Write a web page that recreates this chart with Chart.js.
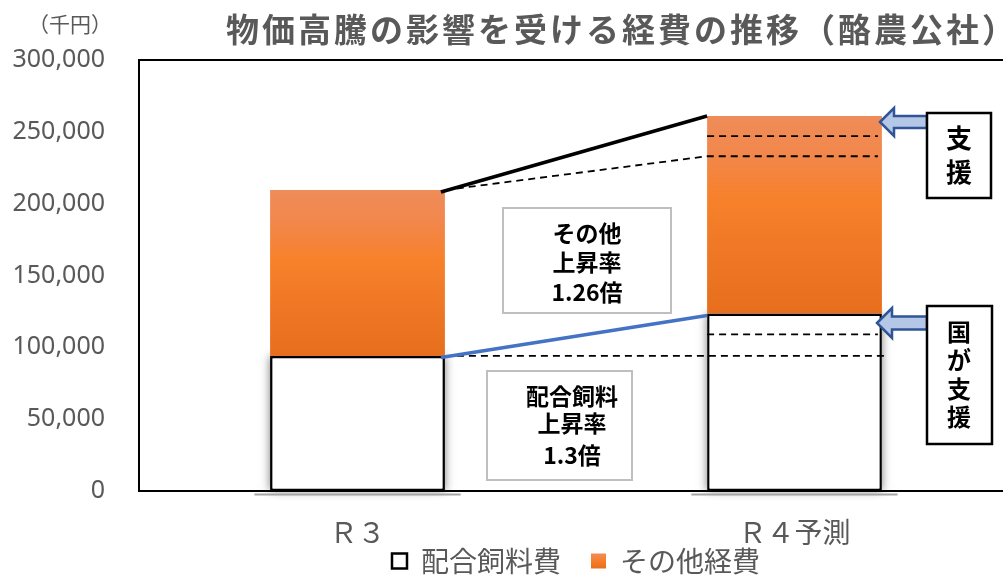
<!DOCTYPE html>
<html lang="ja">
<head>
<meta charset="utf-8">
<title>物価高騰の影響を受ける経費の推移（酪農公社）</title>
<script src="https://cdn.jsdelivr.net/npm/chart.js@4.4.1/dist/chart.umd.min.js"></script>
<style>
  html, body { margin: 0; padding: 0; background: #fff; overflow: hidden; }
  #wrap { position: relative; width: 1003px; height: 575px; overflow: hidden; }
  #wrap canvas { position: absolute; left: 0; top: 0; }
</style>
</head>
<body>
<div id="wrap"><canvas id="cost-chart" width="1016" height="621"></canvas></div>
<script>
// 経費（千円）
var categories = ['Ｒ３', 'Ｒ４予測'];
var feedCost = [94000, 123500];      // 配合飼料費
var otherCost = [115500, 137500];    // その他経費
var otherGuide = [233000, 247000];   // 支援ライン（その他）
var feedGuide = [94000, 109000];     // 支援ライン（配合飼料）
var yTicks = [0, 50000, 100000, 150000, 200000, 250000, 300000];
var feedRate = '1.3倍';
var otherRate = '1.26倍';

var JP = '"Noto Sans CJK JP", "Noto Sans", sans-serif';
var GRAY = '#595959';

function orangeGradient(ctx, top, bottom) {
  var g = ctx.createLinearGradient(0, top, 0, bottom);
  g.addColorStop(0, '#ef8c59');
  g.addColorStop(0.2, '#f2874b');
  g.addColorStop(0.42, '#f7812b');
  g.addColorStop(0.75, '#ee7524');
  g.addColorStop(1, '#e76e1d');
  return g;
}

function orangeFill(c) {
  var y = c.chart.scales.y;
  if (!y || c.dataIndex === undefined) return '#f47f2f';
  var i = c.dataIndex;
  return orangeGradient(c.chart.ctx, y.getPixelForValue(feedCost[i] + otherCost[i]), y.getPixelForValue(feedCost[i]));
}

function textBox(ctx, x, y, w, h, color, lw) {
  ctx.save();
  ctx.fillStyle = '#ffffff';
  ctx.fillRect(x, y, w, h);
  ctx.strokeStyle = color;
  ctx.lineWidth = lw;
  ctx.strokeRect(x, y, w, h);
  ctx.restore();
}

function lines(ctx, list, cx, ys, font) {
  ctx.save();
  ctx.font = font;
  ctx.fillStyle = '#000000';
  ctx.textAlign = 'center';
  ctx.textBaseline = 'middle';
  list.forEach(function(t, i) { ctx.fillText(t, cx, ys[i]); });
  ctx.restore();
}

function leftArrow(ctx, tipX, tipY, headX, headHalf, shaftHalf, endX) {
  ctx.save();
  ctx.beginPath();
  ctx.moveTo(tipX, tipY);
  ctx.lineTo(headX, tipY - headHalf);
  ctx.lineTo(headX, tipY - shaftHalf);
  ctx.lineTo(endX, tipY - shaftHalf);
  ctx.lineTo(endX, tipY + shaftHalf);
  ctx.lineTo(headX, tipY + shaftHalf);
  ctx.lineTo(headX, tipY + headHalf);
  ctx.closePath();
  ctx.fillStyle = '#b4c7e7';
  ctx.fill();
  ctx.strokeStyle = '#2f5597';
  ctx.lineWidth = 2.5;
  ctx.lineJoin = 'miter';
  ctx.stroke();
  ctx.restore();
}

var decor = {
  id: 'decor',
  afterLayout: function(chart) {
    // 凡例を軸ラベルのすぐ下へ寄せる
    var lg = chart.legend;
    if (!lg) return;
    var h = lg.height;
    lg.top = chart.chartArea.bottom + 26;
    lg.bottom = lg.top + h;
  },
  beforeDraw: function(chart) {
    var lg = chart.legend;
    if (lg && lg.legendItems && lg.legendItems[1]) {
      var top = lg.top + 30 + 6.5;
      lg.legendItems[1].fillStyle = orangeGradient(chart.ctx, top, top + 15);
    }
  },
  beforeDatasetsDraw: function(chart) {
    // 配合飼料の棒の影
    var ctx = chart.ctx;
    chart.getDatasetMeta(0).data.forEach(function(bar) {
      var left = bar.x - bar.width / 2;
      ctx.save();
      ctx.shadowColor = 'rgba(0,0,0,0.5)';
      ctx.shadowBlur = 9;
      ctx.fillStyle = '#ffffff';
      ctx.fillRect(left, bar.y, bar.width, bar.base - bar.y);
      ctx.restore();
      ctx.save();
      ctx.strokeStyle = '#a6a6a6';
      ctx.lineWidth = 2;
      ctx.beginPath();
      ctx.moveTo(bar.x - bar.width * 0.59, bar.base + 3.5);
      ctx.lineTo(bar.x + bar.width * 0.59, bar.base + 3.5);
      ctx.stroke();
      ctx.restore();
    });
  },
  afterDatasetsDraw: function(chart) {
    var ctx = chart.ctx;
    var y = chart.scales.y;
    var area = chart.chartArea;
    var bars = chart.getDatasetMeta(1).data;
    var r3Right = bars[0].x + bars[0].width / 2;
    var r4Left = bars[1].x - bars[1].width / 2;
    var r4Right = bars[1].x + bars[1].width / 2;
    var tot3 = y.getPixelForValue(feedCost[0] + otherCost[0]);
    var tot4 = y.getPixelForValue(feedCost[1] + otherCost[1]);
    var feed3 = y.getPixelForValue(feedCost[0]);
    var feed4 = y.getPixelForValue(feedCost[1]);

    // 破線
    ctx.save();
    ctx.strokeStyle = '#000000';
    ctx.lineWidth = 1.8;
    ctx.setLineDash([7, 5]);
    ctx.beginPath();
    ctx.moveTo(r3Right, tot3);
    ctx.lineTo(r4Left, y.getPixelForValue(otherGuide[0]));
    ctx.lineTo(r4Right - 4, y.getPixelForValue(otherGuide[0]));
    ctx.moveTo(r4Left, y.getPixelForValue(otherGuide[1]));
    ctx.lineTo(r4Right - 4, y.getPixelForValue(otherGuide[1]));
    ctx.moveTo(r3Right, y.getPixelForValue(feedGuide[0]));
    ctx.lineTo(r4Right + 2, y.getPixelForValue(feedGuide[0]));
    ctx.moveTo(r4Left, y.getPixelForValue(feedGuide[1]));
    ctx.lineTo(r4Right - 4, y.getPixelForValue(feedGuide[1]));
    ctx.stroke();
    ctx.restore();

    // 上昇を示す実線
    ctx.save();
    ctx.lineWidth = 3.5;
    ctx.lineCap = 'butt';
    ctx.strokeStyle = '#000000';
    ctx.beginPath();
    ctx.moveTo(r3Right - 4, tot3 + 2);
    ctx.lineTo(r4Left, tot4);
    ctx.stroke();
    ctx.strokeStyle = '#4472c4';
    ctx.beginPath();
    ctx.moveTo(r3Right - 4, feed3 + 1.5);
    ctx.lineTo(r4Left, feed4 + 2);
    ctx.stroke();
    ctx.restore();

    // 枠
    ctx.save();
    ctx.strokeStyle = '#000000';
    ctx.lineWidth = 2;
    ctx.strokeRect(area.left, area.top, area.right - area.left, area.bottom - area.top);
    ctx.restore();
  },
  afterDraw: function(chart) {
    var ctx = chart.ctx;

    // タイトル
    ctx.save();
    ctx.font = 'bold 33px ' + JP;
    ctx.fillStyle = GRAY;
    ctx.textBaseline = 'middle';
    ctx.letterSpacing = '3px';
    ctx.fillText('物価高騰の影響を受ける経費の推移（酪農公社）', 226, 29);
    ctx.restore();

    // 単位
    ctx.save();
    ctx.font = '21px ' + JP;
    ctx.fillStyle = GRAY;
    ctx.textBaseline = 'middle';
    ctx.fillText('（千円）', 28, 24);
    ctx.restore();

    // 上昇率
    textBox(ctx, 503, 208, 168, 105, '#bfbfbf', 2);
    lines(ctx, ['その他', '上昇率', otherRate], 587, [233, 262, 292], 'bold 23px ' + JP);
    textBox(ctx, 487, 371, 145, 109, '#bfbfbf', 2);
    lines(ctx, ['配合飼料', '上昇率', feedRate], 572, [396, 423, 455], 'bold 23px ' + JP);

    // 支援
    leftArrow(ctx, 880, 122, 894, 14, 6, 927);
    leftArrow(ctx, 877, 323, 892, 15, 6.5, 927);
    textBox(ctx, 927, 113, 64, 85, '#000000', 2.5);
    lines(ctx, ['支', '援'], 959, [138, 172], 'bold 26px ' + JP);
    textBox(ctx, 927, 306, 65, 138, '#000000', 2.5);
    lines(ctx, ['国', 'が', '支', '援'], 959, [332, 360, 389, 417], 'bold 24px ' + JP);
  }
};

new Chart(document.getElementById('cost-chart'), {
  type: 'bar',
  data: {
    labels: categories,
    datasets: [
      {
        label: '配合飼料費',
        data: feedCost,
        backgroundColor: '#ffffff',
        borderColor: '#000000',
        borderWidth: 2.5,
        borderSkipped: false
      },
      {
        label: 'その他経費',
        data: otherCost,
        backgroundColor: orangeFill,
        borderWidth: 0
      }
    ]
  },
  options: {
    responsive: false,
    animation: false,
    layout: { padding: { top: 60, right: 3, bottom: 0, left: 0 } },
    datasets: { bar: { barPercentage: 0.4, categoryPercentage: 1 } },
    scales: {
      x: {
        stacked: true,
        grid: { display: false, drawTicks: false },
        border: { display: false },
        ticks: { padding: 25, color: GRAY, font: { size: 28, family: JP } },
        afterFit: function(s) { s.height = 62; }
      },
      y: {
        stacked: true,
        min: 0,
        max: 300000,
        grid: { display: false, drawTicks: false },
        border: { display: false },
        ticks: {
          padding: 34,
          color: GRAY,
          font: { size: 25, family: '"Noto Sans", sans-serif' },
          callback: function(v) { return v.toLocaleString('en-US'); }
        },
        afterBuildTicks: function(s) { s.ticks = yTicks.map(function(v) { return { value: v }; }); },
        afterFit: function(s) { s.width = 139; }
      }
    },
    plugins: {
      legend: {
        position: 'bottom',
        fullSize: false,
        labels: {
          boxWidth: 15,
          boxHeight: 15,
          padding: 30,
          color: GRAY,
          font: { size: 28, family: JP },
          generateLabels: function() {
            return [
              { text: '配合飼料費', fillStyle: '#ffffff', strokeStyle: '#000000', lineWidth: 2.5, fontColor: GRAY, datasetIndex: 0 },
              { text: 'その他経費', fillStyle: '#f47f2f', strokeStyle: 'rgba(0,0,0,0)', lineWidth: 0, fontColor: GRAY, datasetIndex: 1 }
            ];
          }
        }
      },
      title: { display: false },
      tooltip: { enabled: false }
    }
  },
  plugins: [decor]
});
</script>
</body>
</html>
